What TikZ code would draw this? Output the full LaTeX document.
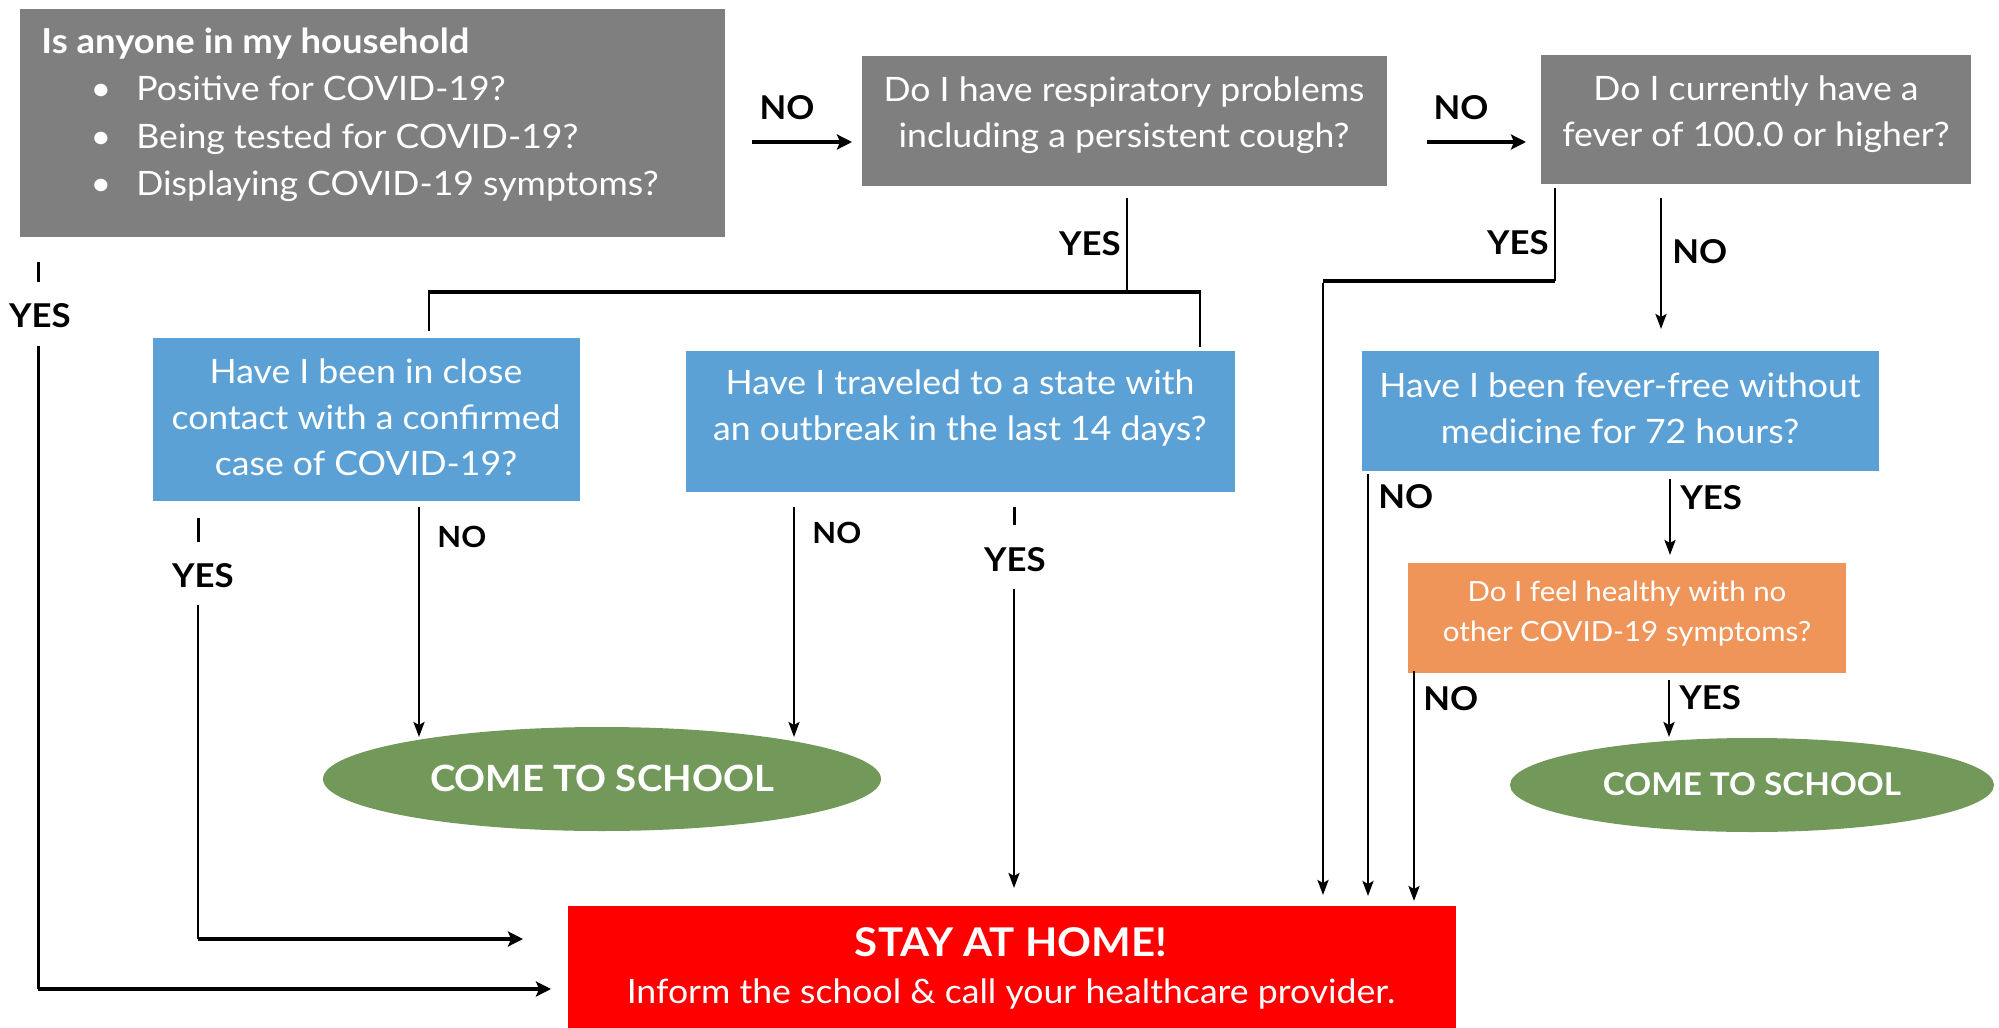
\documentclass[tikz,border=0pt]{standalone}
\usepackage{fontspec}
\setmainfont{Lato}[FakeStretch=1.06]
\usetikzlibrary{arrows.meta,shapes.geometric}
\definecolor{gbox}{HTML}{7F7F7F}
\definecolor{bbox}{HTML}{5BA1D5}
\definecolor{obox}{HTML}{F0955A}
\definecolor{ebox}{HTML}{72985A}
\definecolor{rbox}{HTML}{FF0000}
\begin{document}
\begin{tikzpicture}[x=0.5pt,y=-0.5pt,
  box/.style={draw=none, inner sep=0pt, outer sep=0pt},
  txt/.style={text=white, font=\fontsize{16.8}{23}\selectfont, align=center, inner sep=0pt},
  ltxt/.style={text=white, font=\fontsize{16.8}{23}\selectfont, inner sep=0pt, anchor=base west},
  lbl/.style={font=\bfseries\fontsize{16.4}{18}\selectfont, inner sep=0pt},
  slbl/.style={font=\bfseries\fontsize{14.6}{16}\selectfont, inner sep=0pt},
  cline/.style={line width=1.25pt},
  mline/.style={line width=1.5pt},
  bline/.style={line width=2.2pt},
  arr/.style={-{Stealth[length=7.5pt,width=5.5pt,inset=1.5pt]}},
  barr/.style={-{Stealth[length=7.5pt,width=7.5pt,inset=1.5pt]}},
]
\useasboundingbox (0,0) rectangle (1999,1028);

% boxes
\node[box, fill=gbox, minimum width=352.5pt, minimum height=114pt] (b1) at (372.5,123) {};
\node[box, fill=gbox, minimum width=262.5pt, minimum height=65pt] (b2) at (1124.5,121) {};
\node[box, fill=gbox, minimum width=215pt, minimum height=64.5pt] (b3) at (1756,119.5) {};
\node[box, fill=bbox, minimum width=213.5pt, minimum height=81.5pt] (ba) at (366.5,419.5) {};
\node[box, fill=bbox, minimum width=274.5pt, minimum height=70.5pt] (bb) at (960.5,421.5) {};
\node[box, fill=bbox, minimum width=258.5pt, minimum height=60pt] (bc) at (1620.5,411) {};
\node[box, fill=obox, minimum width=219pt, minimum height=55pt] (bo) at (1627,618) {};
\node[box, ellipse, fill=ebox, minimum width=279pt, minimum height=52pt] (e1) at (602,779) {};
\node[box, ellipse, fill=ebox, minimum width=242pt, minimum height=47pt] (e2) at (1752,785) {};
\node[box, fill=rbox, minimum width=444pt, minimum height=61pt] (rb) at (1012,967) {};

% texts
\node[ltxt, font=\bfseries\fontsize{17.2}{23}\selectfont] (t1a) at (41,54) {Is anyone in my household};
\node[ltxt] (t1b) at (136,100) {Positive for COVID-19?};
\node[ltxt] (t1c) at (136,148) {Being tested for COVID-19?};
\node[ltxt] (t1d) at (136,195) {Displaying COVID-19 symptoms?};
\node[ltxt, anchor=base] (u1) at (101,100) {•};
\node[ltxt, anchor=base] (u2) at (101,148) {•};
\node[ltxt, anchor=base] (u3) at (101,195) {•};

\node[txt] (t2) at (1124,115) {Do I have respiratory problems\\including a persistent cough?};
\node[txt] (t3) at (1756,114) {Do I currently have a\\fever of 100.0 or higher?};
\node[txt] (ta) at (366,417) {Have I been in close\\contact with a confirmed\\case of COVID-19?};
\node[txt] (tb) at (960,408) {Have I traveled to a state with\\an outbreak in the last 14 days?};
\node[txt] (tc) at (1620,408) {Have I been fever-free without\\medicine for 72 hours?};
\node[txt, font=\fontsize{13.9}{20}\selectfont] (to) at (1627,614) {Do I feel healthy with no\\other COVID-19 symptoms?};
\node[txt, font=\bfseries\fontsize{18.1}{20}\selectfont] (te1) at (602,778) {COME TO SCHOOL};
\node[txt, font=\bfseries\fontsize{15.7}{20}\selectfont] (te2) at (1752,784) {COME TO SCHOOL};
\node[txt, font=\bfseries\fontsize{19.8}{20}\selectfont] (tr1) at (1011,942) {STAY AT HOME!};
\node[txt, font=\fontsize{16.8}{20}\selectfont] (tr2) at (1011,994) {Inform the school \& call your healthcare provider.};

% coordinates
\coordinate (n1s) at (752,142); \coordinate (n1e) at (852,142);
\coordinate (n2s) at (1427,142); \coordinate (n2e) at (1526,142);
\coordinate (y1a) at (38,262); \coordinate (y1b) at (38,282);
\coordinate (y1c) at (38,346); \coordinate (y1d) at (38,989); \coordinate (y1e) at (551,989);
\coordinate (y2a) at (1127,198); \coordinate (y2b) at (1127,292);
\coordinate (hl) at (428,292); \coordinate (hr) at (1201,292);
\coordinate (hld) at (429,331); \coordinate (hrd) at (1200,347);
\coordinate (hlu) at (429,291); \coordinate (hru) at (1200,291);
\coordinate (y3a) at (1555,188); \coordinate (y3b) at (1555,281);
\coordinate (y3c) at (1323,281); \coordinate (y3d) at (1323,895);
\coordinate (n3a) at (1661,198); \coordinate (n3b) at (1661,329);
\coordinate (yaa) at (198,518); \coordinate (yab) at (198,542);
\coordinate (yac) at (198,605); \coordinate (yad) at (198,939); \coordinate (yae) at (523,939);
\coordinate (naa) at (419,507); \coordinate (nab) at (419,737);
\coordinate (nba) at (794,507); \coordinate (nbb) at (794,737);
\coordinate (yba) at (1014,507); \coordinate (ybb) at (1014,525);
\coordinate (ybc) at (1014,589); \coordinate (ybd) at (1014,888);
\coordinate (nca) at (1368,474); \coordinate (ncb) at (1368,896);
\coordinate (yca) at (1670,479); \coordinate (ycb) at (1670,555);
\coordinate (noa) at (1414,671); \coordinate (nob) at (1414,901);
\coordinate (yoa) at (1669,680); \coordinate (yob) at (1669,737);

% connectors
\draw[bline, barr] (n1s) -- (n1e);
\draw[bline, barr] (n2s) -- (n2e);
\draw[mline] (y1a) -- (y1b);
\draw[mline] (y1c) -- (y1d);
\draw[bline, barr] (y1d) -- (y1e);
\draw[cline] (y2a) -- (y2b);
\draw[bline] (hl) -- (hr);
\draw[cline] (hlu) -- (hld);
\draw[cline] (hru) -- (hrd);
\draw[cline] (y3a) -- (y3b);
\draw[bline] (y3b) -- (y3c);
\draw[cline, arr] ([yshift=-1pt]y3c) -- (y3d);
\draw[cline, arr] (n3a) -- (n3b);
\draw[mline] (yaa) -- (yab);
\draw[cline] (yac) -- (yad);
\draw[bline, barr] (yad) -- (yae);
\draw[cline, arr] (naa) -- (nab);
\draw[cline, arr] (nba) -- (nbb);
\draw[mline] (yba) -- (ybb);
\draw[cline, arr] (ybc) -- (ybd);
\draw[cline, arr] (nca) -- (ncb);
\draw[cline, arr] (yca) -- (ycb);
\draw[cline, arr] (noa) -- (nob);
\draw[cline, arr] (yoa) -- (yob);

% labels
\node[lbl] (l1) at (787,108) {NO};
\node[lbl] (l2) at (1461,108) {NO};
\node[lbl] (l3) at (40,316) {YES};
\node[lbl, anchor=east] (l4) at (1121,244) {YES};
\node[lbl, anchor=east] (l5) at (1549,243) {YES};
\node[lbl, anchor=west] (l6) at (1672,252) {NO};
\node[lbl] (l7) at (203,576) {YES};
\node[slbl, anchor=west] (l8) at (437,537) {NO};
\node[slbl, anchor=west] (l9) at (812,533) {NO};
\node[lbl] (l10) at (1015,560) {YES};
\node[lbl, anchor=west] (l11) at (1378,497) {NO};
\node[lbl, anchor=west] (l12) at (1680,498) {YES};
\node[lbl, anchor=west] (l13) at (1423,699) {NO};
\node[lbl, anchor=west] (l14) at (1679,698) {YES};
\end{tikzpicture}
\end{document}
